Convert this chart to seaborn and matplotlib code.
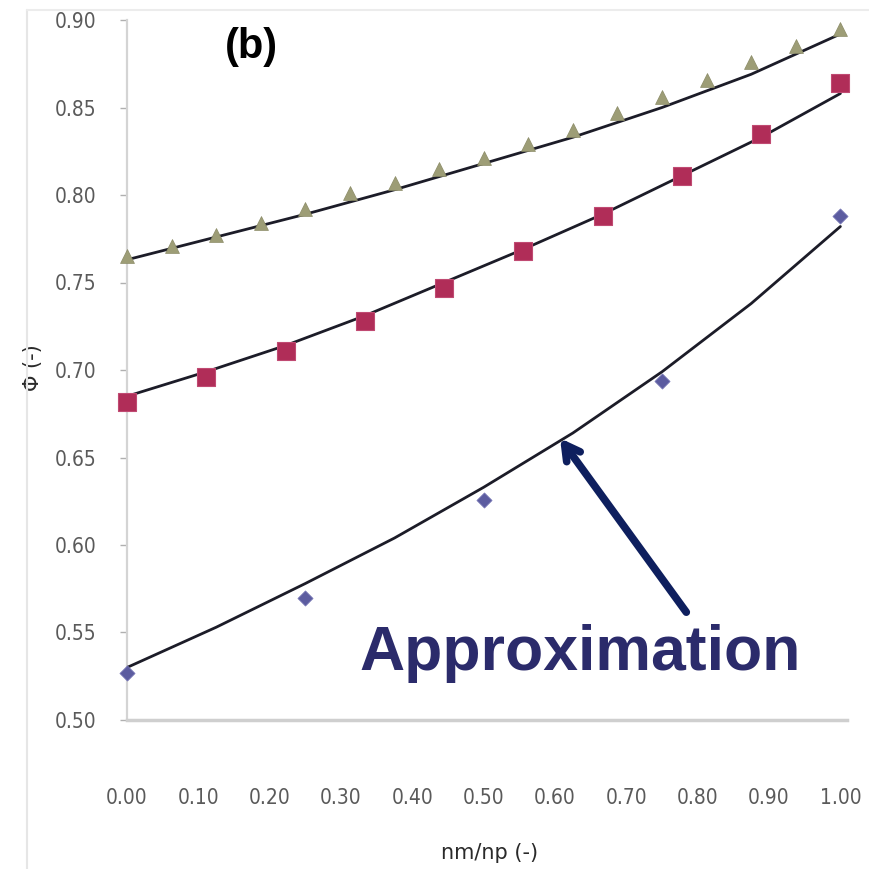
import numpy as np
import pandas as pd
import matplotlib
matplotlib.use("Agg")
import matplotlib.pyplot as plt
import seaborn as sns
from matplotlib import font_manager
from matplotlib.lines import Line2D

# ---- data ----
tri_x = [i / 16 for i in range(17)]
tri_y = [0.765, 0.771, 0.777, 0.784, 0.792, 0.801, 0.807, 0.815, 0.821,
         0.829, 0.837, 0.847, 0.856, 0.866, 0.876, 0.885, 0.895]

sq_x = [i / 9 for i in range(10)]
sq_y = [0.682, 0.696, 0.711, 0.728, 0.747, 0.768, 0.788, 0.811, 0.835, 0.864]

dia_x = [0.0, 0.25, 0.50, 0.75, 1.00]
dia_y = [0.527, 0.570, 0.626, 0.694, 0.788]

fit_x = [0.0, 0.125, 0.25, 0.375, 0.5, 0.625, 0.75, 0.875, 1.0]
fit_top = [0.763, 0.776, 0.789, 0.803, 0.818, 0.833, 0.850, 0.869, 0.892]
fit_mid_x = sq_x
fit_mid = [0.685, 0.699, 0.714, 0.731, 0.750, 0.769, 0.789, 0.811, 0.833, 0.858]
fit_bot = [0.530, 0.553, 0.578, 0.604, 0.633, 0.664, 0.699, 0.738, 0.782]

x_ticks = [0.0, 0.1, 0.2, 0.3, 0.4, 0.5, 0.6, 0.7, 0.8, 0.9, 1.0]
x_tick_labels = ["0.00", "0.10", "0.20", "0.30", "0.40", "0.50",
                 "0.60", "0.70", "0.80", "0.90", "1.00"]
y_ticks = [0.50, 0.55, 0.60, 0.65, 0.70, 0.75, 0.80, 0.85, 0.90]
y_tick_labels = ["0.50", "0.55", "0.60", "0.65", "0.70", "0.75",
                 "0.80", "0.85", "0.90"]

x_label = "nm/np (-)"
y_label = "\u03a6 (-)"
panel_label = "(b)"
note_text = "Approximation"

# ---- style ----
sns.set_theme(style="white")
plt.rcParams["font.family"] = ["DejaVu Sans"]

# look for a condensed face for the tick labels
tick_fp = None
for f in font_manager.fontManager.ttflist:
    fn = f.fname.lower()
    if "liberationsansnarrow-regular" in fn or "liberationsans-narrow" in fn:
        tick_fp = font_manager.FontProperties(fname=f.fname, size=19)
        break
if tick_fp is None:
    for f in font_manager.fontManager.ttflist:
        fn = f.fname.lower()
        if fn.endswith("dejavusanscondensed.ttf"):
            tick_fp = font_manager.FontProperties(fname=f.fname, size=15)
            break
if tick_fp is None:
    tick_fp = font_manager.FontProperties(family="DejaVu Sans", size=14)

available = {f.name for f in font_manager.fontManager.ttflist}
bold_family = "Liberation Sans" if "Liberation Sans" in available else "DejaVu Sans"

W = H = 869
fig = plt.figure(figsize=(W / 100, H / 100), dpi=100)
fig.patch.set_facecolor("white")

left_px, right_px = 127, 847
top_px, bottom_px = 20, 720
ax = fig.add_axes([left_px / W, 1 - bottom_px / H,
                   (right_px - left_px) / W, (bottom_px - top_px) / H])
ax.set_facecolor("white")

# faint outer chart frame
fig.add_artist(Line2D([27 / W, 27 / W], [1 - 10 / H, 0.0], color="#e6e6e6", lw=1.5))
fig.add_artist(Line2D([27 / W, 1.0], [1 - 10 / H, 1 - 10 / H], color="#ececec", lw=1.5))

line_col = "#1c1c28"
df_top = pd.DataFrame({"x": fit_x, "y": fit_top})
df_mid = pd.DataFrame({"x": fit_mid_x, "y": fit_mid})
df_bot = pd.DataFrame({"x": fit_x, "y": fit_bot})
for d in (df_top, df_mid, df_bot):
    sns.lineplot(data=d, x="x", y="y", ax=ax, color=line_col, lw=2.0,
                 estimator=None, sort=True, zorder=3)

df_tri = pd.DataFrame({"x": tri_x, "y": tri_y})
df_sq = pd.DataFrame({"x": sq_x, "y": sq_y})
df_dia = pd.DataFrame({"x": dia_x, "y": dia_y})

sns.scatterplot(data=df_tri, x="x", y="y", ax=ax, marker="^", s=100,
                color="#9d9d76", edgecolor="#8a8a66", linewidth=0.5,
                zorder=4, clip_on=False)
sns.scatterplot(data=df_sq, x="x", y="y", ax=ax, marker="s", s=180,
                color="#b02d58", edgecolor="#c04a72", linewidth=0.8,
                zorder=4, clip_on=False)
sns.scatterplot(data=df_dia, x="x", y="y", ax=ax, marker="D", s=60,
                color="#5c5ca0", edgecolor="#7a7ab8", linewidth=0.5,
                zorder=4, clip_on=False)

ax.set_xlim(0.0, (right_px - left_px) / 713.4)
ax.set_ylim(0.50, 0.90)
ax.set_xticks(x_ticks)
ax.set_xticklabels(x_tick_labels)
ax.set_yticks(y_ticks)
ax.set_yticklabels(y_tick_labels)

for lab in ax.get_xticklabels() + ax.get_yticklabels():
    lab.set_fontproperties(tick_fp)
    lab.set_color("#5a5a5a")

ax.tick_params(axis="x", length=0, pad=49)
ax.tick_params(axis="y", left=True, length=5, width=1, color="#b0b0b0",
               direction="out", pad=17)

for side in ("top", "right"):
    ax.spines[side].set_visible(False)
ax.spines["left"].set_color("#d4d4d4")
ax.spines["left"].set_linewidth(1.6)
ax.spines["bottom"].set_color("#cfcfcf")
ax.spines["bottom"].set_linewidth(2.5)

ax.set_xlabel(x_label, fontsize=15, color="#2a2a2a")
ax.set_ylabel(y_label, fontsize=15, color="#2a2a2a")
ax.xaxis.label.set_va("center")
ax.yaxis.label.set_va("center")
ax.xaxis.set_label_coords((490 - left_px) / (right_px - left_px),
                          -(853 - bottom_px) / (bottom_px - top_px))
ax.yaxis.set_label_coords(-(127 - 33) / (right_px - left_px),
                          (bottom_px - 368) / (bottom_px - top_px))

ax.text(0.175, 0.8846, panel_label, fontsize=30, fontweight="bold",
        family=bold_family, color="black", ha="center", va="center", zorder=5)

ax.annotate("", xy=(0.607, 0.661), xytext=(0.784, 0.5616),
            arrowprops=dict(arrowstyle="->,head_length=0.9,head_width=0.5",
                            color="#0e1f5e", lw=5.5, shrinkA=0, shrinkB=0,
                            capstyle="round", joinstyle="round"),
            zorder=6)

ax.text(0.635, 0.5285, note_text, fontsize=45, fontweight="bold",
        family=bold_family, color="#2b2b6b", ha="center", va="baseline", zorder=6)

fig.savefig("out.png", dpi=100, facecolor="white")
